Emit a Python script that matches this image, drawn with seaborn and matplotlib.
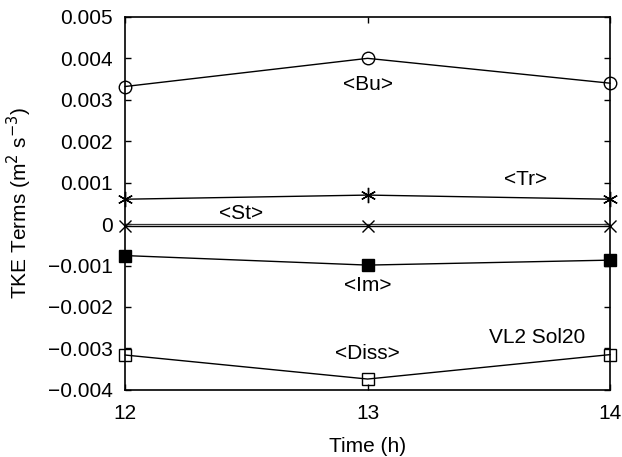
import matplotlib
matplotlib.use("Agg")
import matplotlib.pyplot as plt
import seaborn as sns
import pandas as pd

hours = [12, 13, 14]
bu = [0.00332, 0.00400, 0.00340]
tr = [0.00060, 0.00070, 0.00060]
st = [-0.00004, -0.00004, -0.00004]
im = [-0.00076, -0.00099, -0.00087]
diss = [-0.00316, -0.00374, -0.00315]

sns.set_theme(style="ticks")
plt.rcParams['font.family'] = ['Liberation Sans', 'DejaVu Sans']
plt.rcParams['axes.unicode_minus'] = True

fig = plt.figure(figsize=(6.22, 4.57), dpi=100)
ax = fig.add_axes([0.201, 0.147, 0.78, 0.816])

ax.axhline(0, color='#333333', lw=0.9, zorder=1)

series = [
    (bu, dict(marker='o', mfc='none', ms=9)),
    (tr, dict(marker=(6, 2, 0), ms=11)),
    (st, dict(marker='x', ms=9)),
    (im, dict(marker='s', mfc='black', ms=9)),
    (diss, dict(marker='s', mfc='none', ms=9)),
]
for vals, kw in series:
    df = pd.DataFrame({'h': hours, 'v': vals})
    sns.lineplot(data=df, x='h', y='v', ax=ax, color='black', lw=1.0,
                 mec='black', mew=1.0, clip_on=False, **kw)

ax.set_xlim(12, 14)
ax.set_ylim(-0.004, 0.005)
ax.set_xticks([12, 13, 14])
ax.set_xticklabels(['12', '13', '14'])
yt = [-0.004, -0.003, -0.002, -0.001, 0, 0.001, 0.002, 0.003, 0.004, 0.005]
ax.set_yticks(yt)
ax.set_yticklabels(['\u22120.004', '\u22120.003', '\u22120.002', '\u22120.001', '0',
                    '0.001', '0.002', '0.003', '0.004', '0.005'])
ax.tick_params(direction='in', top=True, right=True, length=4, width=1,
               labelsize=15, colors='black', labelcolor='black')
ax.tick_params(axis='y', pad=9)
ax.tick_params(axis='x', pad=10)
for s in ax.spines.values():
    s.set_linewidth(1.2)
    s.set_color('black')

ax.set_xlabel('Time (h)', fontsize=15, labelpad=10, color='black')
ax.set_ylabel('TKE Terms (m$^2$ s$^{-3}$)', fontsize=15, labelpad=10, color='black')

tk = dict(fontsize=15, ha='center', va='center', color='black')
ax.text(13, 0.00337, '<Bu>', **tk)
ax.text(13.65, 0.00107, '<Tr>', **tk)
ax.text(12.48, 0.00025, '<St>', **tk)
ax.text(13, -0.00148, '<Im>', **tk)
ax.text(13, -0.00313, '<Diss>', **tk)
ax.text(13.7, -0.00273, 'VL2 Sol20', **tk)

fig.savefig('out.png', dpi=100)
